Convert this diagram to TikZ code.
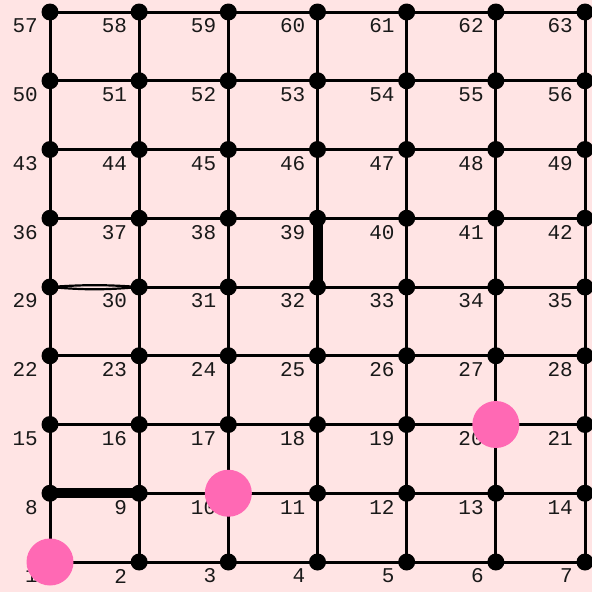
\documentclass[tikz,border=0pt]{standalone}
\usepackage{fontspec}
\setmonofont{Liberation Mono}
\usetikzlibrary{backgrounds}
\definecolor{bgpink}{HTML}{FFE4E4}
\definecolor{hotpk}{HTML}{FF69B4}
\tikzset{
 vtx/.style={circle,fill=black,inner sep=0pt,minimum size=17pt},
 lbl/.style={font=\ttfamily\fontsize{21}{21}\selectfont,anchor=east,inner sep=0pt,text=black!90},
 edge/.style={line width=3pt},
 heavy/.style={line width=10pt},
 thinedge/.style={line width=2.2pt},
 marknode/.style={circle,fill=hotpk,inner sep=0pt,minimum size=47pt}
}
\begin{document}
\begin{tikzpicture}[x=1pt,y=-1pt]
\useasboundingbox (0,0) rectangle (592,592);
\foreach \j in {0,...,8}{
 \foreach \i in {0,...,6}{
  \pgfmathtruncatemacro{\n}{7*\j+\i+1}
  \pgfmathsetmacro{\px}{50+89.17*\i}
  \pgfmathsetmacro{\py}{562-68.75*\j}
  \node[vtx] (v\n) at (\px,\py) {};
  \node[lbl] (l\n) at (\px-12,\py+14) {\n};
 }}
\begin{scope}[on background layer]
\fill[bgpink] (0,0) rectangle (592,592);
\foreach \j in {0,...,8}{
 \foreach \i in {0,...,5}{
  \pgfmathtruncatemacro{\n}{7*\j+\i+1}
  \pgfmathtruncatemacro{\m}{\n+1}
  \ifnum\n=29\else
  \draw[edge] (v\n.center) -- (v\m.center);
  \fi
 }}
\foreach \j in {0,...,7}{
 \foreach \i in {0,...,6}{
  \pgfmathtruncatemacro{\n}{7*\j+\i+1}
  \pgfmathtruncatemacro{\m}{\n+7}
  \draw[edge] (v\n.center) -- (v\m.center);
 }}
\draw[heavy] (v8.center) -- (v9.center);
\draw[heavy] (v32.center) -- (v39.center);
\draw[thinedge] (v29.center) to[bend left=4] (v30.center);
\draw[thinedge] (v29.center) to[bend right=5] (v30.center);
\end{scope}
\node[marknode] (p1) at (v1) {};
\node[marknode] (p10) at (v10) {};
\node[marknode] (p20) at (v20) {};
\end{tikzpicture}
\end{document}
